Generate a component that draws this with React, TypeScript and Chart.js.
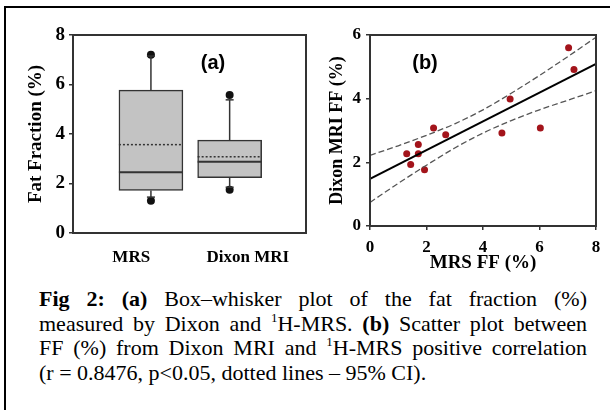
import React, { useEffect, useRef } from 'react';
import { Chart, registerables } from 'chart.js';

Chart.register(...registerables);

// ---------- Panel (a): box-whisker data ----------
const BOX_LABELS = ['MRS', 'Dixon MRI'];
const BOX_X = [1, 2];
const BOX_Q1 = [1.72, 2.24];
const BOX_Q3 = [5.77, 3.75];
const BOX_MEDIAN = [2.45, 2.88];
const BOX_MEAN = [3.57, 3.08];
const WHISKER_LOW = [1.45, 1.85];
const WHISKER_HIGH = [7.15, 5.38];
const OUTLIER_LOW = [1.3, 1.75];
const OUTLIER_HIGH = [7.2, 5.58];

// ---------- Panel (b): scatter data ----------
const MRS_FF = [1.3, 1.44, 1.71, 1.71, 1.93, 2.25, 2.68, 4.67, 4.96, 6.03, 7.03, 7.22];
const DIXON_FF = [2.27, 1.93, 2.56, 2.27, 1.77, 3.08, 2.87, 2.92, 3.99, 3.08, 5.6, 4.92];
const FIT_X = [0, 8];
const FIT_Y = [1.48, 5.09];
const CI_X = [0, 1, 2, 3, 4, 5, 6, 7, 8];
const CI_UPPER = [2.22, 2.52, 2.85, 3.21, 3.65, 4.17, 4.73, 5.32, 5.93];
const CI_LOWER = [0.74, 1.34, 1.91, 2.45, 2.92, 3.31, 3.65, 3.95, 4.25];

const SERIF = "'Liberation Serif', 'Times New Roman', serif";
const SANS = "'Liberation Sans', Arial, sans-serif";
const AXIS_COLOR = '#333';

const framePlugin = {
  id: 'frame',
  afterDraw(chart: any, _args: any, opts: any) {
    const { ctx, chartArea: a } = chart;
    ctx.save();
    ctx.strokeStyle = opts.color || AXIS_COLOR;
    ctx.lineWidth = opts.width || 2;
    ctx.strokeRect(a.left, a.top, a.right - a.left, a.bottom - a.top);
    if (opts.label) {
      ctx.font = opts.labelFont;
      ctx.fillStyle = '#000';
      ctx.textAlign = 'center';
      ctx.textBaseline = 'middle';
      ctx.fillText(opts.label, a.left + opts.labelDx, a.top + opts.labelDy);
    }
    ctx.restore();
  },
};

const boxDecorPlugin = {
  id: 'boxDecor',
  afterDatasetsDraw(chart: any) {
    const meta = chart.getDatasetMeta(0);
    const ys = chart.scales.y;
    const ctx = chart.ctx;
    const seg = (x1: number, y1: number, x2: number, y2: number) => {
      ctx.beginPath();
      ctx.moveTo(x1, y1);
      ctx.lineTo(x2, y2);
      ctx.stroke();
    };
    meta.data.forEach((bar: any, i: number) => {
      const { x, width } = bar.getProps(['x', 'width'], true);
      const half = width / 2;
      const py = (v: number) => ys.getPixelForValue(v);
      ctx.save();
      ctx.strokeStyle = AXIS_COLOR;
      ctx.lineWidth = 1.5;
      // whiskers
      seg(x, py(BOX_Q3[i]), x, py(WHISKER_HIGH[i]));
      seg(x, py(BOX_Q1[i]), x, py(WHISKER_LOW[i]));
      seg(x - 4, py(WHISKER_HIGH[i]), x + 4, py(WHISKER_HIGH[i]));
      seg(x - 4, py(WHISKER_LOW[i]), x + 4, py(WHISKER_LOW[i]));
      // median
      ctx.lineWidth = 2;
      seg(x - half, py(BOX_MEDIAN[i]), x + half, py(BOX_MEDIAN[i]));
      // mean (dotted)
      ctx.lineWidth = 1.5;
      ctx.setLineDash([2, 2]);
      seg(x - half, py(BOX_MEAN[i]), x + half, py(BOX_MEAN[i]));
      ctx.restore();
    });
  },
};

function BoxChart() {
  const ref = useRef<HTMLCanvasElement | null>(null);
  useEffect(() => {
    if (!ref.current) return;
    const chart = new Chart(ref.current, {
      type: 'bar',
      data: {
        labels: BOX_LABELS,
        datasets: [
          {
            type: 'bar',
            xAxisID: 'xv',
            yAxisID: 'y',
            data: BOX_X.map((x, i) => ({ x, y: [BOX_Q1[i], BOX_Q3[i]] })) as any,
            backgroundColor: '#c3c3c3',
            borderColor: AXIS_COLOR,
            borderWidth: 1.5,
            borderSkipped: false,
            barThickness: 64,
          } as any,
          {
            type: 'scatter',
            xAxisID: 'xv',
            yAxisID: 'y',
            data: [
              ...BOX_X.map((x, i) => ({ x, y: OUTLIER_HIGH[i] })),
              ...BOX_X.map((x, i) => ({ x, y: OUTLIER_LOW[i] })),
            ],
            pointRadius: 4,
            backgroundColor: '#111',
            borderWidth: 0,
          } as any,
        ],
      },
      options: {
        responsive: false,
        animation: false,
        devicePixelRatio: 1,
        layout: { padding: { left: 25, top: 35, right: 2, bottom: 7 } },
        plugins: {
          legend: { display: false },
          tooltip: { enabled: false },
          frame: { color: AXIS_COLOR, width: 2, label: '(a)', labelFont: `bold 20px ${SANS}`, labelDx: 140, labelDy: 28 },
        } as any,
        scales: {
          x: {
            type: 'category',
            position: 'bottom',
            offset: true,
            grid: { display: false, drawTicks: false, tickLength: 0 },
            border: { display: false },
            ticks: { color: '#000', padding: 14, font: { family: SERIF, size: 17, weight: 'bold' } },
            afterFit: (s: any) => { s.height = 40; },
          },
          xv: { type: 'linear', display: false, min: 0.38, max: 2.6 },
          y: {
            type: 'linear',
            min: 0,
            max: 8,
            ticks: { stepSize: 2, color: '#000', padding: 4, font: { family: SERIF, size: 19, weight: 'bold' } },
            grid: { drawOnChartArea: false, tickLength: 4, color: AXIS_COLOR, lineWidth: 1.5 },
            border: { display: false },
            title: { display: true, text: 'Fat Fraction (%)', color: '#000', padding: 0, font: { family: SERIF, size: 19, weight: 'bold' } },
            afterFit: (s: any) => { s.width = 48; },
          },
        } as any,
      },
      plugins: [framePlugin, boxDecorPlugin],
    });
    return () => chart.destroy();
  }, []);
  return <canvas ref={ref} width={310} height={280} style={{ position: 'absolute', left: 0, top: 0, display: 'block' }} />;
}

function ScatterChart() {
  const ref = useRef<HTMLCanvasElement | null>(null);
  useEffect(() => {
    if (!ref.current) return;
    const tickFont = { family: SERIF, size: 17, weight: 'bold' };
    const chart = new Chart(ref.current, {
      type: 'scatter',
      data: {
        datasets: [
          {
            type: 'line',
            data: CI_X.map((x, i) => ({ x, y: CI_UPPER[i] })),
            borderColor: '#555',
            borderWidth: 1.3,
            borderDash: [6, 3],
            pointRadius: 0,
            cubicInterpolationMode: 'monotone',
            fill: false,
          } as any,
          {
            type: 'line',
            data: CI_X.map((x, i) => ({ x, y: CI_LOWER[i] })),
            borderColor: '#555',
            borderWidth: 1.3,
            borderDash: [6, 3],
            pointRadius: 0,
            cubicInterpolationMode: 'monotone',
            fill: false,
          } as any,
          {
            type: 'line',
            data: FIT_X.map((x, i) => ({ x, y: FIT_Y[i] })),
            borderColor: '#000',
            borderWidth: 2,
            pointRadius: 0,
            fill: false,
          } as any,
          {
            type: 'scatter',
            data: MRS_FF.map((x, i) => ({ x, y: DIXON_FF[i] })),
            pointRadius: 3.5,
            backgroundColor: '#a3141b',
            borderWidth: 0,
          } as any,
        ],
      },
      options: {
        responsive: false,
        animation: false,
        devicePixelRatio: 1,
        layout: { padding: { left: 17, top: 35, right: 14, bottom: 4 } },
        plugins: {
          legend: { display: false },
          tooltip: { enabled: false },
          frame: { color: AXIS_COLOR, width: 2, label: '(b)', labelFont: `bold 20px ${SANS}`, labelDx: 55, labelDy: 28 },
        } as any,
        scales: {
          x: {
            type: 'linear',
            min: 0,
            max: 8,
            ticks: { stepSize: 2, color: '#000', padding: 7, font: tickFont },
            grid: { drawOnChartArea: false, tickLength: 4, color: AXIS_COLOR, lineWidth: 1.5 },
            border: { display: false },
            title: { display: true, text: 'MRS FF (%)', color: '#000', padding: { top: 0, bottom: 2 }, font: { family: SERIF, size: 19, weight: 'bold' } },
            afterFit: (s: any) => { s.height = 50; },
          },
          y: {
            type: 'linear',
            min: 0,
            max: 6,
            ticks: { stepSize: 2, color: '#000', padding: 5, font: tickFont },
            grid: { drawOnChartArea: false, tickLength: 4, color: AXIS_COLOR, lineWidth: 1.5 },
            border: { display: false },
            title: { display: true, text: 'Dixon MRI FF (%)', color: '#000', padding: 0, font: { family: SERIF, size: 18, weight: 'bold' } },
            afterFit: (s: any) => { s.width = 43; },
          },
        } as any,
      },
      plugins: [framePlugin],
    });
    return () => chart.destroy();
  }, []);
  return <canvas ref={ref} width={300} height={280} style={{ position: 'absolute', left: 310, top: 0, display: 'block' }} />;
}

const sup = { fontSize: 13, position: 'relative' as const, top: -9, lineHeight: 0 };
const lineStyle = { textAlign: 'justify' as const, textAlignLast: 'justify' as const, height: 24.7 };

export default function App() {
  return (
    <div style={{ position: 'absolute', left: 0, top: 0, width: 610, height: 410, overflow: 'hidden', background: '#fff' }}>
      <div style={{ position: 'absolute', left: 4, top: 6, width: 700, height: 500, border: '2px solid #000' }} />
      <BoxChart />
      <ScatterChart />
      <div style={{ position: 'absolute', left: 39, top: 287, width: 548, fontFamily: SERIF, fontSize: 22, lineHeight: '24.7px', color: '#000' }}>
        <div style={lineStyle}><b>Fig 2:</b> <b>(a)</b> Box–whisker plot of the fat fraction (%)</div>
        <div style={lineStyle}>measured by Dixon and <span style={sup}>1</span>H-MRS. <b>(b)</b> Scatter plot between</div>
        <div style={lineStyle}>FF (%) from Dixon MRI and <span style={sup}>1</span>H-MRS positive correlation</div>
        <div style={{ height: 24.7 }}>(r = 0.8476, p&lt;0.05, dotted lines – 95% CI).</div>
      </div>
    </div>
  );
}
